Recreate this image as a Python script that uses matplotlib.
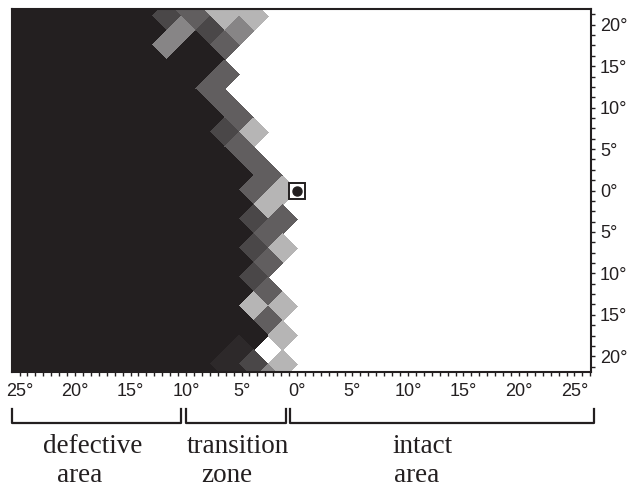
import matplotlib
matplotlib.use("Agg")
import matplotlib.pyplot as plt
from matplotlib.collections import PolyCollection
from matplotlib.ticker import MultipleLocator, FuncFormatter
from matplotlib.transforms import blended_transform_factory

# Visual field map on a diamond lattice, rows from top (r=13) to bottom (r=-13).
# '#' defective, 's' faint speckle, 'D'/'d'/'m'/'l' grey levels, '.' intact.
# Cells left of each string are defective, cells right of it intact.
row_index = list(range(13, -14, -1))
row_cells = [
    "##dll..",
    "#Ddll..",
    "##mDm..",
    "#m#d...",
    "####...",
    "###d...",
    "###d...",
    "###d...",
    "####d..",
    "###Dl..",
    "####d..",
    "####d..",
    "#####d.",
    "####dl.",
    "#####l.",
    "####Dd.",
    "#####d.",
    "####Dl.",
    "#####d.",
    "####D..",
    "#####d.",
    "####ll.",
    "#####d.",
    "#####l.",
    "####s..",
    "###sDl.",
    "####sm.",
]
shade = {
    "#": "#231f20",
    "s": "#2d292a",
    "D": "#4a4748",
    "d": "#615e5f",
    "m": "#878586",
    "l": "#b6b5b5",
}

x_ticks = [-25, -20, -15, -10, -5, 0, 5, 10, 15, 20, 25]
y_ticks = [-20, -15, -10, -5, 0, 5, 10, 15, 20]

zone_start = [-25.7, -10.0, -0.65]
zone_end = [-10.45, -1.0, 26.8]
zone_lines = [("defective", -18.4, "area", -19.6),
              ("transition", -5.3, "zone", -6.3),
              ("intact", 11.35, "area", 10.8)]

hx, hy = 1.306, 1.749  # half diagonals of one lattice cell, degrees

fig = plt.figure(figsize=(6.29, 4.87), dpi=100)
ax = fig.add_axes([12 / 629, 115 / 487, 579 / 629, 363 / 487])

verts, faces = [], []
for r, cells in zip(row_index, row_cells):
    first = -12 if r % 2 else -11
    for c in range(-23, 24):
        if (c + r) % 2 == 0:
            continue
        i = (c - first) // 2
        if c < first:
            key = "#"
        elif i < len(cells):
            key = cells[i]
        else:
            key = "."
        if key == ".":
            continue
        x, y = c * hx, r * hy
        verts.append([(x - hx, y), (x, y + hy), (x + hx, y), (x, y - hy)])
        faces.append(shade[key])

ax.add_collection(PolyCollection(verts, facecolors=faces, edgecolors="none",
                                 antialiaseds=False))

# fixation mark
ax.plot(0, 0, marker="s", ms=11, mfc="white", mec="#231f20", mew=1.4, zorder=5)
ax.plot(0, 0, marker="o", ms=6.5, color="#231f20", zorder=6)

ax.set_xlim(-25.68, 26.49)
ax.set_ylim(-21.9, 21.9)

deg = FuncFormatter(lambda v, p: "%d\u00b0" % abs(round(v)))
ax.set_xticks(x_ticks)
ax.set_yticks(y_ticks)
ax.xaxis.set_major_formatter(deg)
ax.yaxis.set_major_formatter(deg)
ax.xaxis.set_minor_locator(MultipleLocator(5 / 7))
ax.yaxis.set_minor_locator(MultipleLocator(1.25))
ax.yaxis.tick_right()
ax.tick_params(which="both", direction="out", length=3, width=1,
               color="#231f20", top=False, left=False)
ax.tick_params(axis="x", pad=5, labelsize=13)
ax.tick_params(axis="y", pad=3.5, labelsize=13)
for lab in ax.get_xticklabels() + ax.get_yticklabels():
    lab.set_family("Liberation Sans")
    lab.set_color("#231f20")
for s in ax.spines.values():
    s.set_linewidth(1.5)
    s.set_color("#231f20")

trans = blended_transform_factory(ax.transData, ax.transAxes)
for x0, x1 in zip(zone_start, zone_end):
    ax.plot([x0, x0, x1, x1], [-0.102, -0.140, -0.140, -0.102], transform=trans,
            color="#231f20", lw=1.6, clip_on=False)
for top, xt, bottom, xb in zone_lines:
    ax.text(xt, -0.223, top, transform=trans, ha="center", va="baseline",
            family="Liberation Serif", fontsize=19.5, color="#231f20")
    ax.text(xb, -0.303, bottom, transform=trans, ha="center", va="baseline",
            family="Liberation Serif", fontsize=19.5, color="#231f20")

fig.savefig("out.png", dpi=100)
